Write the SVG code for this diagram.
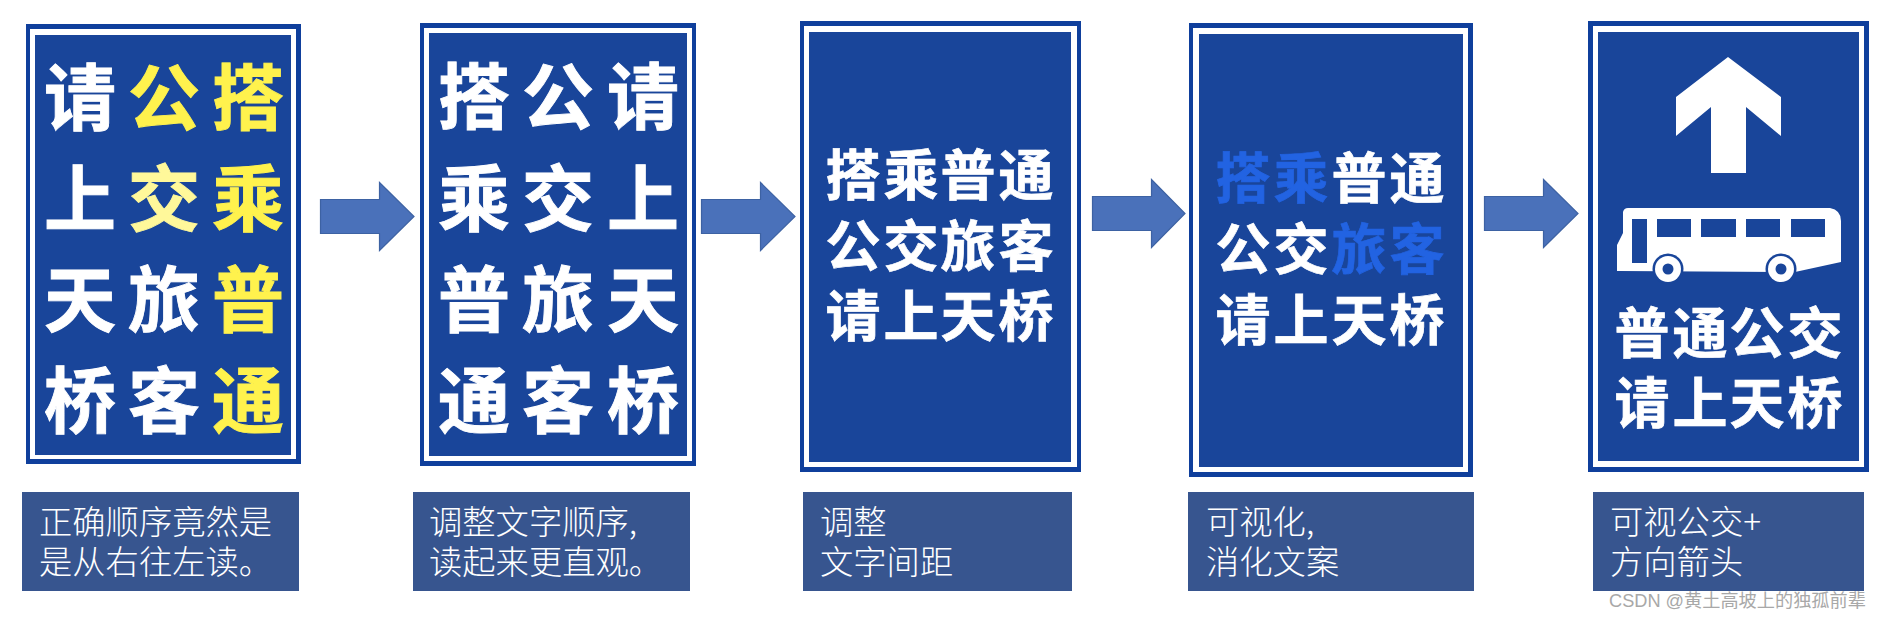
<svg xmlns="http://www.w3.org/2000/svg" width="1896" height="620" viewBox="0 0 1896 620">
<style>
.outer{fill:#0f3f9c}
.white{fill:#fff}
.inner{fill:#19459a}
.cap{fill:#37558f}
.arrow{fill:#4a71ba;stroke:#3d62a3;stroke-width:1.2}
text{font-family:"Noto Sans CJK SC","Noto Sans",sans-serif}
.s{font-weight:700;fill:#fff;stroke:#fff;stroke-width:.9px;text-anchor:middle}
.b{font-size:72px}
.m{font-size:55px;stroke-width:.7px}
.y{fill:#fff24d;stroke:#fff24d}
.p{fill:#fff89a;stroke:#fff89a}
.h{fill:#2263e2;stroke:#2263e2}
.c{font-size:33.300px;fill:#fff;font-weight:300}
.w{font-size:18.200px;fill:#a8a8a8;font-family:"Liberation Sans","Noto Sans CJK SC",sans-serif}
</style>
<rect width="1896" height="620" fill="#fff"/>
<g id="connectors">
<path class="arrow" d="M320.500 199.500H379.500V182.500L414 216.500L379.500 250.500V233.500H320.500Z"/>
<path class="arrow" d="M701.500 199.500H760.500V182.500L795 216.500L760.500 250.500V233.500H701.500Z"/>
<path class="arrow" d="M1092.500 196.500H1151.500V179.500L1185 213.500L1151.500 247.500V230.500H1092.500Z"/>
<path class="arrow" d="M1484.500 196.500H1543.500V179.500L1578 213.500L1543.500 247.500V230.500H1484.500Z"/>
</g>
<g id="node-1">
<rect class="outer" x="26" y="24" width="275" height="440"/>
<rect class="white" x="30" y="29" width="266" height="430"/>
<rect class="inner" x="35" y="35" width="256" height="420"/>
<text class="s b"><tspan x="80" y="124">请</tspan><tspan class="y" x="164" y="124">公</tspan><tspan class="y" x="248" y="124">搭</tspan><tspan x="80" y="225">上</tspan><tspan class="p" x="164" y="225">交</tspan><tspan class="y" x="248" y="225">乘</tspan><tspan x="80" y="326">天</tspan><tspan x="164" y="326">旅</tspan><tspan class="y" x="248" y="326">普</tspan><tspan x="80" y="427">桥</tspan><tspan x="164" y="427">客</tspan><tspan class="y" x="248" y="427">通</tspan></text>
</g>
<g id="node-2">
<rect class="outer" x="420" y="23" width="276" height="443"/>
<rect class="white" x="424" y="28" width="268" height="433"/>
<rect class="inner" x="429" y="33" width="258" height="423"/>
<text class="s b"><tspan x="474" y="123">搭</tspan><tspan x="558" y="123">公</tspan><tspan x="643" y="123">请</tspan><tspan x="474" y="225">乘</tspan><tspan x="558" y="225">交</tspan><tspan x="643" y="225">上</tspan><tspan x="474" y="326">普</tspan><tspan x="558" y="326">旅</tspan><tspan x="643" y="326">天</tspan><tspan x="474" y="427">通</tspan><tspan x="558" y="427">客</tspan><tspan x="643" y="427">桥</tspan></text>
</g>
<g id="node-3">
<rect class="outer" x="800" y="21" width="281" height="451"/>
<rect class="white" x="804" y="26" width="273" height="441"/>
<rect class="inner" x="809" y="32" width="262" height="430"/>
<text class="s m"><tspan x="853" y="195">搭</tspan><tspan x="911" y="195">乘</tspan><tspan x="968" y="195">普</tspan><tspan x="1026" y="195">通</tspan><tspan x="853" y="266">公</tspan><tspan x="911" y="266">交</tspan><tspan x="968" y="266">旅</tspan><tspan x="1026" y="266">客</tspan><tspan x="853" y="336">请</tspan><tspan x="911" y="336">上</tspan><tspan x="968" y="336">天</tspan><tspan x="1026" y="336">桥</tspan></text>
</g>
<g id="node-4">
<rect class="outer" x="1189" y="23" width="284" height="454"/>
<rect class="white" x="1193" y="28" width="275" height="444"/>
<rect class="inner" x="1199" y="34" width="264" height="433"/>
<text class="s m"><tspan class="h" x="1243" y="198">搭</tspan><tspan class="h" x="1301" y="198">乘</tspan><tspan x="1359" y="198">普</tspan><tspan x="1417" y="198">通</tspan><tspan x="1243" y="269">公</tspan><tspan x="1301" y="269">交</tspan><tspan class="h" x="1359" y="269">旅</tspan><tspan class="h" x="1417" y="269">客</tspan><tspan x="1243" y="340">请</tspan><tspan x="1301" y="340">上</tspan><tspan x="1359" y="340">天</tspan><tspan x="1417" y="340">桥</tspan></text>
</g>
<g id="node-5">
<rect class="outer" x="1588" y="21" width="281" height="451"/>
<rect class="white" x="1593" y="26" width="271" height="441"/>
<rect class="inner" x="1598" y="32" width="261" height="429"/>
<path class="white" d="M1728 57L1781 97V136L1746 107V173H1711V107L1676 136V97Z"/>
<path class="white" d="M1623 212Q1624 208 1628 208H1830Q1841 210 1841 221V262L1795 272L1620 271H1617V245L1623 233Z"/>
<path class="inner" d="M1632 219h15v44h-15zM1657 219h34v18h-34zM1701 219h35v18h-35zM1746 219h34v18h-34zM1791 219h34v18h-34z"/>
<circle class="inner" cx="1668" cy="269" r="15.500"/><circle class="white" cx="1668" cy="269" r="13"/><circle class="inner" cx="1668" cy="269" r="5.500"/>
<circle class="inner" cx="1781" cy="269" r="15.500"/><circle class="white" cx="1781" cy="269" r="13"/><circle class="inner" cx="1781" cy="269" r="5.500"/>
<text class="s m"><tspan x="1642" y="353">普</tspan><tspan x="1700" y="353">通</tspan><tspan x="1757" y="353">公</tspan><tspan x="1815" y="353">交</tspan><tspan x="1642" y="423">请</tspan><tspan x="1700" y="423">上</tspan><tspan x="1757" y="423">天</tspan><tspan x="1815" y="423">桥</tspan></text>
</g>
<g id="caption-1"><rect class="cap" x="22" y="492" width="277" height="99"/><text class="c"><tspan x="39" y="534">正确顺序竟然是</tspan><tspan x="39" y="574">是从右往左读。</tspan></text></g>
<g id="caption-2"><rect class="cap" x="413" y="492" width="277" height="99"/><text class="c"><tspan x="429" y="534">调整文字顺序,</tspan><tspan x="429" y="574">读起来更直观。</tspan></text></g>
<g id="caption-3"><rect class="cap" x="803" y="492" width="269" height="99"/><text class="c"><tspan x="820" y="534">调整</tspan><tspan x="820" y="574">文字间距</tspan></text></g>
<g id="caption-4"><rect class="cap" x="1188" y="492" width="286" height="99"/><text class="c"><tspan x="1206" y="534">可视化,</tspan><tspan x="1206" y="574">消化文案</tspan></text></g>
<g id="caption-5"><rect class="cap" x="1593" y="492" width="271" height="99"/><text class="c"><tspan x="1610" y="534">可视公交+</tspan><tspan x="1610" y="574">方向箭头</tspan></text></g>
<text class="w" x="1609" y="607">CSDN @黄土高坡上的独孤前辈</text>
</svg>
